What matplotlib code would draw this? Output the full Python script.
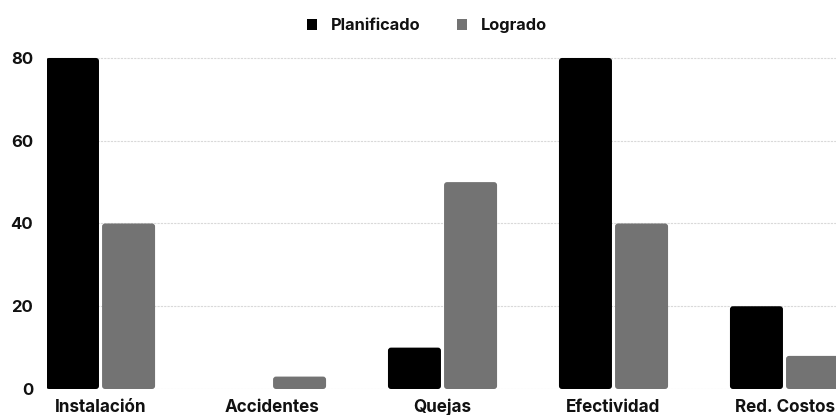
import matplotlib
matplotlib.use("Agg")
import matplotlib.pyplot as plt
from matplotlib.patches import FancyBboxPatch, Patch
import numpy as np

categories = ["Instalación", "Accidentes", "Quejas", "Efectividad", "Red. Costos"]
planificado = [80, 0, 10, 80, 20]
logrado = [40, 3, 50, 40, 8]
yticks = [0, 20, 40, 60, 80]

BLACK = "#000000"
GRAY = "#737373"

plt.rcParams["font.family"] = ["Inter", "DejaVu Sans"]

W, H = 837, 415
fig = plt.figure(figsize=(W / 100, H / 100), dpi=100)
ax = fig.add_axes([47 / W, 26 / H, 1 - 47 / W, 339.3 / H])

x = np.arange(len(categories))
bw = 0.31
gap = 0.009
b1 = ax.bar(x - bw / 2 - gap, planificado, bw, color=BLACK, zorder=3)
b2 = ax.bar(x + bw / 2 + gap, logrado, bw, color=GRAY, zorder=3)

ax.set_xlim(-0.313, 4.307)
ax.set_ylim(0, 82)

# swap the plain rectangles for slightly rounded ones
px_x = ax.get_position().width * W / (ax.get_xlim()[1] - ax.get_xlim()[0])
px_y = ax.get_position().height * H / (ax.get_ylim()[1] - ax.get_ylim()[0])
r_px = 3.0
for container in (b1, b2):
    for rect in container.patches:
        rect.set_visible(False)
        h = rect.get_height()
        if h <= 0:
            continue
        fb = FancyBboxPatch(
            (rect.get_x(), rect.get_y()), rect.get_width(), h,
            boxstyle=f"round,pad=0,rounding_size={r_px / px_x}",
            mutation_aspect=px_x / px_y,
            facecolor=rect.get_facecolor(), edgecolor="none", zorder=3,
        )
        ax.add_patch(fb)

ax.set_yticks(yticks)
ax.set_yticklabels([str(v) for v in yticks], fontsize=12, fontweight="bold")
ax.set_xticks(x)
ax.set_xticklabels(categories, fontsize=12.3, fontweight="bold")
for lbl in ax.get_xticklabels():
    lbl.set_va("baseline")
ax.tick_params(axis="both", length=0, colors="#111111")
ax.tick_params(axis="y", pad=10)
ax.tick_params(axis="x", pad=16.5)

ax.grid(axis="y", color="#d9d9d9", linestyle=(0, (2, 1)), linewidth=0.8, zorder=0)
ax.set_axisbelow(True)
for s in ax.spines.values():
    s.set_visible(False)

handles = [Patch(facecolor=BLACK, edgecolor="none"), Patch(facecolor=GRAY, edgecolor="none")]
leg = fig.legend(
    handles=handles, labels=["Planificado", "Logrado"],
    loc="center", bbox_to_anchor=(427 / W, 1 - 25.5 / H), ncol=2, frameon=False,
    handlelength=0.65, handleheight=0.65, handletextpad=0.85, columnspacing=2.2,
    prop={"size": 11.8, "weight": "bold"},
)
for t in leg.get_texts():
    t.set_color("#111111")

fig.savefig("out.png", dpi=100, facecolor="white")
